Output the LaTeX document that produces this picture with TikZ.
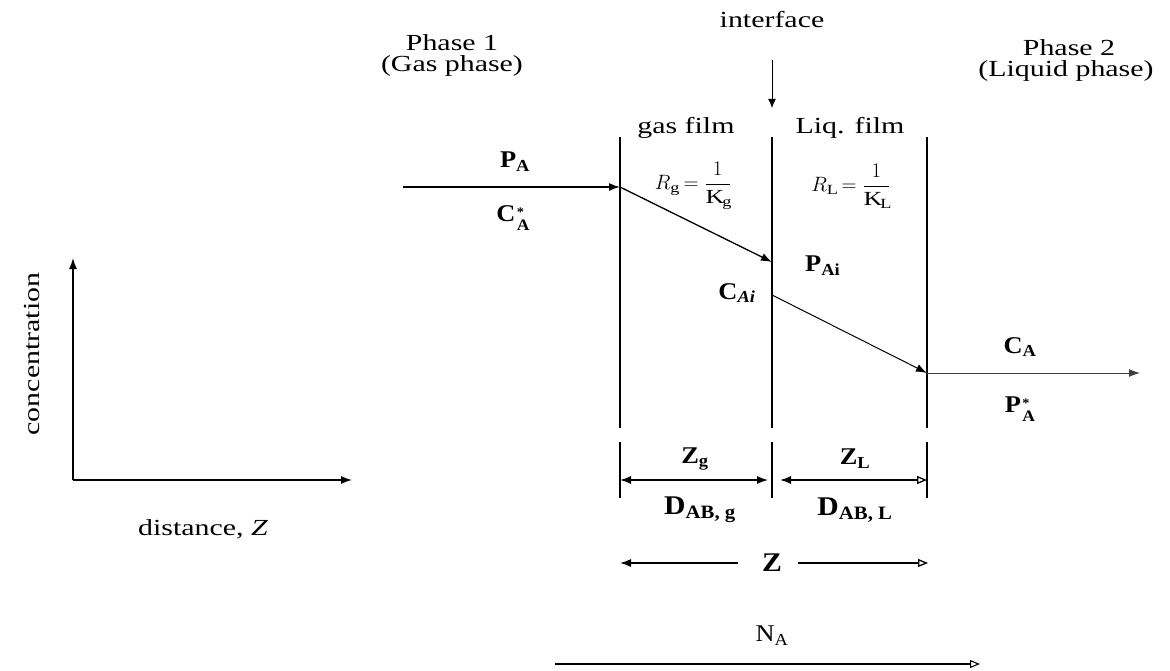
\documentclass[tikz,border=0pt]{standalone}
\usepackage{fontspec}
\setmainfont{Liberation Serif}[FakeStretch=1.3]
\newfontfamily\lblfont{Liberation Serif}[FakeStretch=1.1]
\usetikzlibrary{arrows.meta}
\newcommand{\starsub}[2]{#1\kern1.5pt\raisebox{-0.4em}{\shortstack[l]{{\fontsize{13}{13}\selectfont *}\\[1pt]{\fontsize{16}{16}\selectfont #2}}}}
\begin{document}
\begin{tikzpicture}[x=1pt,y=-1pt,
  txt/.style={inner sep=0pt,font=\fontsize{23}{25}\selectfont},
  lbl/.style={inner sep=0pt,font=\lblfont\bfseries\fontsize{24}{26}\selectfont},
  dlbl/.style={inner sep=0pt,font=\lblfont\bfseries\fontsize{27}{29}\selectfont},
  frm/.style={inner sep=0pt,font=\fontsize{20}{22}\selectfont},
  wall/.style={line width=1.4pt},
  flow/.style={line width=1.3pt,-{Latex[length=11pt,width=8pt]}},
  oflow/.style={line width=1.1pt,-{Triangle[open,length=10pt,width=8pt]}},
  dim/.style={line width=1.3pt,{Latex[length=11pt,width=8pt]}-{Latex[length=11pt,width=8pt]}},
  dimo/.style={line width=1.3pt,{Latex[length=11pt,width=8pt]}-{Triangle[open,length=10pt,width=8pt]}}
]
\useasboundingbox (0,0) rectangle (1170,671);

% film walls
\coordinate (glt) at (620,137); \coordinate (glb) at (620,428);
\coordinate (ift) at (772,137); \coordinate (ifb) at (772,428);
\coordinate (lrt) at (927,137); \coordinate (lrb) at (927,428);
\draw[wall] (glt) -- (glb);
\draw[wall] (ift) -- (ifb);
\draw[wall] (lrt) -- (lrb);
% dimension bars
\coordinate (g1) at (620,442); \coordinate (g2) at (620,498);
\coordinate (i1) at (772,442); \coordinate (i2) at (772,498);
\coordinate (l1) at (927,442); \coordinate (l2) at (927,498);
\draw[wall] (g1) -- (g2);
\draw[wall] (i1) -- (i2);
\draw[wall] (l1) -- (l2);

% top labels
\node[txt] (iface) at (772,20) {interface};
\coordinate (ia1) at (772,60); \coordinate (ia2) at (772,108);
\draw[line width=1pt,-{Latex[length=9pt,width=8pt]}] (ia1) -- (ia2);
\node[txt] (ph1) at (452,43) {Phase 1};
\node[txt] (ph1b) at (452,66) {(Gas phase)};
\node[txt] (ph2) at (1069,48) {Phase 2};
\node[txt] (ph2b) at (1066,71) {(Liquid phase)};
\node[txt] (gf) at (686,128) {gas film};
\node[txt] (lf) at (850,128) {Liq. film};

% resistances
\node[frm] (rg) at (693,186) {$\displaystyle R_{\rm g}=\frac{1}{\mathrm{K}_{\mkern3mu\rm g}}$};
\node[frm] (rl) at (851,186) {$\displaystyle R_{\rm L}=\frac{1}{\mathrm{K}_{\mkern3mu\rm L}}$};

% bulk gas
\coordinate (pa0) at (403,187);
\coordinate (pa1) at (620,187);
\draw[flow] (pa0) -- (pa1);
\node[lbl] (PA) at (515,162) {P\textsubscript{A}};
\node[lbl] (CAs) at (513,218) {\starsub{C}{A}};

% gas film profile
\coordinate (pai) at (772,262);
\draw[flow] (pa1) -- (pai);
\node[lbl,anchor=west] (PAi) at (805,266) {P\textsubscript{Ai}};
\node[lbl] (CAi) at (737,293) {C\textsubscript{\itshape Ai}};

% liquid film profile
\coordinate (cai) at (772,295);
\coordinate (ca) at (927,373);
\draw[flow,line width=1pt] (cai) -- (ca);
\coordinate (ca2) at (1140,373);
\draw[line width=0.9pt,black!75,-{Latex[length=11pt,width=8pt]}] (ca) -- (ca2);
\node[lbl] (CA) at (1020,347) {C\textsubscript{A}};
\node[lbl] (PAs) at (1020,409) {\starsub{P}{A}};

% film thicknesses
\coordinate (zg1) at (620,480); \coordinate (zg2) at (768,480);
\coordinate (zl1) at (780,480); \coordinate (zl2) at (927,480);
\draw[dim] (zg1) -- (zg2);
\draw[dimo] (zl1) -- (zl2);
\node[lbl] (Zg) at (695,459) {Z\textsubscript{g}};
\node[lbl] (ZL) at (855,459) {Z\textsubscript{L}};
\node[dlbl] (Dg) at (700,510) {D\textsubscript{AB, g}};
\node[dlbl] (DL) at (855,510) {D\textsubscript{AB, L}};

% total Z
\node[lbl,font=\lblfont\bfseries\fontsize{27}{29}\selectfont] (Z) at (772,563) {Z};
\coordinate (za) at (620,563); \coordinate (zb) at (928,563);
\coordinate (zla) at (738,563); \coordinate (zrb) at (798,563);
\draw[flow] (zla) -- (za);
\draw[oflow,line width=1.3pt] (zrb) -- (zb);

% flux
\node[lbl,font=\lblfont\fontsize{24}{26}\selectfont] (NA) at (772,636) {N\textsubscript{A}};
\coordinate (na1) at (555,664); \coordinate (na2) at (980,664);
\draw[oflow] (na1) -- (na2);

% axes
\coordinate (o) at (73,480);
\coordinate (yt) at (73,258);
\coordinate (xt) at (352,480);
\draw[flow] (o) -- (yt);
\draw[flow] (o) -- (xt);
\node[txt,rotate=90] (conc) at (32,354) {concentration};
\node[txt] (dist) at (203,529) {distance, \textit{Z}};
\end{tikzpicture}
\end{document}
